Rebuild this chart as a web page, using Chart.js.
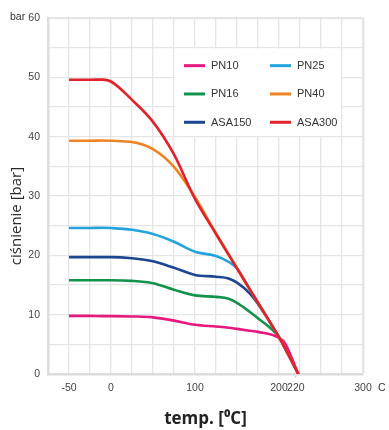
<!DOCTYPE html>
<html lang="pl">
<head>
<meta charset="utf-8">
<title>ciśnienie / temperatura</title>
<script src="https://cdn.jsdelivr.net/npm/chart.js@4"></script>
<style>
  html, body { margin: 0; padding: 0; background: #fff; }
  #wrap { width: 389px; height: 430px; }
</style>
</head>
<body>
<div id="wrap"><canvas id="chart" width="389" height="430"></canvas></div>
<script>
// Temperatures [°C] at which each pressure rating is given
const temps = [-50, -25, -10, 0, 25, 50, 75, 100, 125, 140, 150, 165, 175, 200, 207, 223];

// Allowed pressure [bar] per rating, one value per temperature above
const pn10   = [9.8, 9.8, 9.75, 9.75, 9.7, 9.55, 9.0, 8.3, 8.0, 7.8, 7.6, 7.3, 7.1, 6.1, 5.2, 0];
const pn16   = [15.8, 15.8, 15.8, 15.8, 15.7, 15.3, 14.2, 13.25, 13.0, 12.7, 12.0, 10.5, 9.4, 6.2, 4.4, 0];
const asa150 = [19.7, 19.7, 19.7, 19.7, 19.5, 19.0, 17.9, 16.7, 16.4, 16.1, 15.4, 13.6, 11.8, 6.2, 4.4, 0];
const pn25   = [24.6, 24.6, 24.65, 24.6, 24.3, 23.6, 22.3, 20.6, 19.9, 18.9, 17.8, 14.3, 12.0, 6.2, 4.4, 0];
const pn40   = [39.3, 39.3, 39.35, 39.3, 39.1, 37.9, 34.9, 29.8, 23.7, 20.2, 17.85, 14.3, 12.0, 6.2, 4.4, 0];
const asa300 = [49.6, 49.6, 49.62, 49.3, 46.2, 42.5, 37.0, 29.5, 23.6, 20.1, 17.8, 14.3, 12.0, 6.2, 4.4, 0];

const seriesNames  = ['PN10', 'PN25', 'PN16', 'PN40', 'ASA150', 'ASA300'];
const seriesColors = ['#e5197e', '#25a3de', '#13924b', '#ef8324', '#1c4690', '#e1222a'];

// Axis ticks
const xGridStep   = 25;
const xTickLabels = [-50, 0, 100, 200, 220, 300];
const yTickLabels = [0, 10, 20, 30, 40, 50, 60];

const yTitle = 'ciśnienie [bar]';
const xTitle = 'temp. [\u2070C]';
const yUnit  = 'bar';
const xUnit  = 'C';

const values = { PN10: pn10, PN16: pn16, ASA150: asa150, PN25: pn25, PN40: pn40, ASA300: asa300 };
const colorOf = name => seriesColors[seriesNames.indexOf(name)];
const points = arr => temps.map((t, i) => ({ x: t, y: arr[i] }));

// first entry is painted on top
const drawOrder = ['ASA300', 'PN40', 'PN10', 'PN25', 'ASA150', 'PN16'];
const datasets = drawOrder.map(name => ({
  label: name,
  data: points(values[name]),
  borderColor: colorOf(name),
  backgroundColor: colorOf(name),
  borderWidth: 2.6,
  pointRadius: 0,
  cubicInterpolationMode: 'monotone',
  fill: false
}));

const GRID = '#e5e5e5';
const EDGE = '#dcdcdc';
const TICK_FONT = { family: "'Liberation Sans', Arial, sans-serif", size: 10.5 };

// legend box sitting on the grid, plus the axis title and unit texts
const decorations = {
  id: 'decorations',
  beforeDatasetsDraw(chart) {
    const { ctx, scales: { x, y } } = chart;
    const left = x.getPixelForValue(75), right = x.getPixelForValue(275);
    const top = y.getPixelForValue(55), bottom = y.getPixelForValue(40);
    ctx.save();
    ctx.fillStyle = '#ffffff';
    ctx.fillRect(left + 1, top + 1, right - left - 2, bottom - top - 2);
    ctx.font = "11px 'Liberation Sans', Arial, sans-serif";
    ctx.textBaseline = 'middle';
    ctx.fillStyle = '#333';
    seriesNames.forEach((name, i) => {
      const col = i % 2, row = Math.floor(i / 2);
      const lx = left + 10 + col * 86;
      const ly = top + 18 + row * 28.3;
      ctx.strokeStyle = colorOf(name);
      ctx.lineWidth = 3;
      ctx.beginPath();
      ctx.moveTo(lx, ly);
      ctx.lineTo(lx + 21, ly);
      ctx.stroke();
      ctx.fillStyle = '#333';
      ctx.textAlign = 'left';
      ctx.fillText(name, lx + 27, ly + 0.5);
    });
    ctx.restore();
  },
  afterDraw(chart) {
    const { ctx, chartArea } = chart;
    ctx.save();
    ctx.fillStyle = '#333';
    ctx.textBaseline = 'middle';
    ctx.font = "10.5px 'Liberation Sans', Arial, sans-serif";
    ctx.textAlign = 'left';
    ctx.fillText(yUnit, 10, chartArea.top - 1);
    ctx.fillText(xUnit, chartArea.right + 15, chartArea.bottom + 14);
    ctx.translate(17, 216);
    ctx.rotate(-Math.PI / 2);
    ctx.textAlign = 'center';
    ctx.fillStyle = '#2a2a2a';
    ctx.font = "15px 'Open Sans', 'Noto Sans', sans-serif";
    ctx.fillText(yTitle, 0, 0);
    ctx.restore();
  }
};

new Chart(document.getElementById('chart'), {
  type: 'line',
  data: { datasets },
  plugins: [decorations],
  options: {
    responsive: false,
    devicePixelRatio: 1,
    animation: false,
    events: [],
    layout: { padding: { top: 18, right: 26, left: 0, bottom: 0 } },
    plugins: { legend: { display: false }, tooltip: { enabled: false } },
    scales: {
      x: {
        type: 'linear',
        min: -75,
        max: 300,
        afterFit: s => { s.height = 56; },
        afterBuildTicks: axis => {
          const vals = [];
          for (let v = axis.min; v <= axis.max; v += xGridStep) vals.push(v);
          xTickLabels.forEach(v => { if (!vals.includes(v)) vals.push(v); });
          vals.sort((a, b) => a - b);
          axis.ticks = vals.map(v => ({ value: v }));
        },
        border: { display: true, color: EDGE, width: 2.5 },
        grid: {
          drawTicks: true,
          tickLength: 4,
          color: c => (c.tick && c.tick.value % xGridStep !== 0) ? 'rgba(0,0,0,0)' : GRID,
          lineWidth: c => (c.tick && c.tick.value === 300) ? 2.5 : 1.3,
          tickColor: c => (c.tick && c.tick.value % xGridStep !== 0) ? '#d8d8d8' : 'rgba(0,0,0,0)'
        },
        ticks: {
          autoSkip: false,
          maxRotation: 0,
          padding: 4,
          color: '#444',
          font: TICK_FONT,
          callback: v => xTickLabels.includes(v) ? String(v) : ''
        },
        title: {
          display: true,
          text: xTitle,
          color: '#222',
          font: { family: "'Open Sans', 'Noto Sans', sans-serif", size: 17, weight: 'bold' },
          padding: { top: 0, bottom: 1 }
        }
      },
      y: {
        min: 0,
        max: 60,
        afterFit: s => { s.width = 48; },
        border: { display: true, color: EDGE, width: 2.5 },
        grid: {
          drawTicks: false,
          color: GRID,
          lineWidth: c => (c.tick && c.tick.value === 60) ? 2.2 : 1.3
        },
        ticks: {
          stepSize: 5,
          padding: 8,
          color: '#444',
          font: TICK_FONT,
          callback: v => yTickLabels.includes(v) ? String(v) : ''
        }
      }
    }
  }
});
</script>
</body>
</html>
